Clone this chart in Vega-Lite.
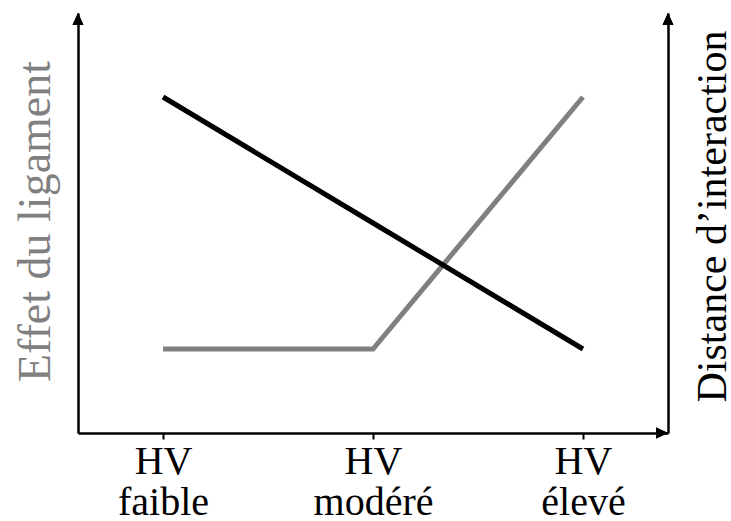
{
  "$schema": "https://vega.github.io/schema/vega-lite/v6.json",
  "width": 590,
  "height": 420,
  "autosize": "none",
  "padding": {"left": 78, "top": 13, "right": 63, "bottom": 88},
  "background": "white",
  "config": {
    "view": {"stroke": null},
    "font": "Liberation Serif",
    "axis": {"domainColor": "black", "domainWidth": 2.5, "grid": false}
  },
  "data": {
    "values": [
      {"hv": 0, "effet": 84, "distance": 336},
      {"hv": 1, "effet": 84, "distance": 210},
      {"hv": 2, "effet": 336, "distance": 84}
    ]
  },
  "layer": [
    {
      "layer": [
        {
          "mark": {"type": "line", "color": "#808080", "strokeWidth": 5, "strokeCap": "butt"},
          "encoding": {
            "x": {
              "field": "hv", "type": "quantitative",
              "scale": {"domain": [-0.405, 2.405], "nice": false, "zero": false},
              "axis": {
                "title": null, "values": [0, 1, 2],
                "tickSize": 6, "tickWidth": 2, "tickColor": "black",
                "labelPadding": 2, "labelFontSize": 40, "labelColor": "black",
                "labelLineHeight": 41, "labelBaseline": "top",
                "labelFont": "Liberation Serif",
                "labelExpr": "datum.value == 0 ? ['HV', 'faible'] : datum.value == 1 ? ['HV', 'modéré'] : ['HV', 'élevé']"
              }
            },
            "y": {
              "field": "effet", "type": "quantitative",
              "scale": {"domain": [0, 420], "nice": false, "zero": false},
              "axis": {
                "orient": "left", "title": "Effet du ligament",
                "labels": false, "ticks": false,
                "titleColor": "#808080", "titleFontSize": 46, "titleFontWeight": "normal",
                "titleFont": "Liberation Serif",
                "titleAngle": 270, "titleAlign": "center", "titleBaseline": "middle",
                "titleX": -43, "titleY": 208
              }
            }
          }
        },
        {
          "mark": {"type": "point", "shape": "M0,0 L-0.45,1 L0.45,1 Z", "filled": true, "color": "black", "opacity": 1, "size": 576},
          "encoding": {
            "x": {"datum": -0.405, "type": "quantitative"},
            "y": {"datum": 420, "type": "quantitative"}
          }
        },
        {
          "mark": {"type": "point", "shape": "M0,0 L-1,-0.45 L-1,0.45 Z", "filled": true, "color": "black", "opacity": 1, "size": 576},
          "encoding": {
            "x": {"datum": 2.405, "type": "quantitative"},
            "y": {"datum": 0, "type": "quantitative"}
          }
        }
      ]
    },
    {
      "layer": [
        {
          "mark": {"type": "line", "color": "black", "strokeWidth": 5, "strokeCap": "butt"},
          "encoding": {
            "x": {"field": "hv", "type": "quantitative"},
            "y": {
              "field": "distance", "type": "quantitative",
              "scale": {"domain": [0, 420], "nice": false, "zero": false},
              "axis": {
                "orient": "right", "title": "Distance d’interaction",
                "labels": false, "ticks": false,
                "titleColor": "black", "titleFontSize": 42, "titleFontWeight": "normal",
                "titleFont": "Liberation Serif",
                "titleAngle": 270, "titleAlign": "center", "titleBaseline": "middle",
                "titleX": 44, "titleY": 203
              }
            }
          }
        },
        {
          "mark": {"type": "point", "shape": "M0,0 L-0.45,1 L0.45,1 Z", "filled": true, "color": "black", "opacity": 1, "size": 576},
          "encoding": {
            "x": {"datum": 2.405, "type": "quantitative"},
            "y": {"datum": 420, "type": "quantitative"}
          }
        }
      ]
    }
  ],
  "resolve": {"scale": {"y": "independent"}}
}
